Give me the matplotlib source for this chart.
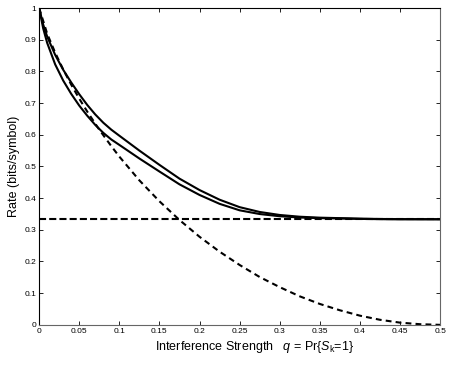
import numpy as np
import matplotlib
matplotlib.use('Agg')
import matplotlib.pyplot as plt

plt.rcParams['font.family'] = ['Liberation Sans', 'DejaVu Sans']
plt.rcParams['mathtext.fontset'] = 'custom'
plt.rcParams['mathtext.rm'] = 'Liberation Sans'
plt.rcParams['mathtext.it'] = 'Liberation Sans:italic'

# values
q = [0, 0.005, 0.01, 0.02, 0.03, 0.04, 0.05, 0.06, 0.07, 0.08, 0.09, 0.1,
     0.125, 0.15, 0.175, 0.2, 0.225, 0.25, 0.275, 0.3, 0.325, 0.35, 0.375,
     0.4, 0.425, 0.45, 0.5]
rate_upper = [1.0, 0.948, 0.91, 0.852, 0.805, 0.765, 0.728, 0.694, 0.664,
              0.638, 0.616, 0.597, 0.550, 0.505, 0.4615, 0.4255, 0.395, 0.3715,
              0.3563, 0.3468, 0.3413, 0.3383, 0.3368, 0.3352, 0.3342, 0.3337,
              0.3333]
rate_lower = [1.0, 0.936, 0.89, 0.822, 0.771, 0.729, 0.692, 0.66, 0.631,
              0.606, 0.585, 0.568, 0.525, 0.484, 0.4435, 0.41, 0.382, 0.3615,
              0.3498, 0.3428, 0.3388, 0.3368, 0.3358, 0.3344, 0.3336, 0.3333,
              0.3333]

q_d = [0, 0.01, 0.02, 0.03, 0.04, 0.05, 0.06, 0.075, 0.09, 0.1, 0.125, 0.15,
       0.175, 0.2, 0.225, 0.25, 0.275, 0.3, 0.325, 0.35, 0.375, 0.4, 0.425,
       0.45, 0.475, 0.5]
rate_dashed = [1.0, 0.919, 0.859, 0.806, 0.758, 0.714, 0.673, 0.616, 0.564,
               0.531, 0.456, 0.39, 0.331, 0.278, 0.231, 0.189, 0.151, 0.119,
               0.09, 0.066, 0.046, 0.029, 0.016, 0.007, 0.002, 0.0]

flat_level = 1 / 3

fig = plt.figure(figsize=(4.5, 3.65), dpi=100)
ax = fig.add_axes([0.087, 0.11, 0.891, 0.868])

ax.axhline(flat_level, color='black', lw=1.5, dashes=(3.4, 1.5))
ax.plot(q, rate_upper, color='black', lw=1.5)
ax.plot(q, rate_lower, color='black', lw=1.5)
ax.plot(q_d, rate_dashed, color='black', lw=1.5, dashes=(2.8, 2))

ax.set_xlim(0, 0.5)
ax.set_ylim(0, 1)
ax.set_xticks(np.arange(0, 0.51, 0.05))
ax.set_xticklabels(['0', '0.05', '0.1', '0.15', '0.2', '0.25', '0.3', '0.35',
                    '0.4', '0.45', '0.5'])
ax.set_yticks(np.arange(0, 1.01, 0.1))
ax.set_yticklabels(['0', '0.1', '0.2', '0.3', '0.4', '0.5', '0.6', '0.7',
                    '0.8', '0.9', '1'])
ax.tick_params(direction='in', top=True, right=True, length=3, width=0.6,
               labelsize=6, pad=2)
for side in ['left', 'top']:
    ax.spines[side].set_color('black')
for side in ['right', 'bottom']:
    ax.spines[side].set_color('#666666')
for s in ax.spines.values():
    s.set_linewidth(0.8)

ax.set_xlabel(r'Interference Strength   $q$ = Pr{$S_{\rm k}$=1}', fontsize=9,
              labelpad=4)
ax.xaxis.set_label_coords(0.536, -0.045, transform=ax.transAxes)
ax.xaxis.label.set_verticalalignment('top')
ax.set_ylabel('Rate (bits/symbol)', fontsize=9, labelpad=3)

fig.savefig('out.png', dpi=100)
